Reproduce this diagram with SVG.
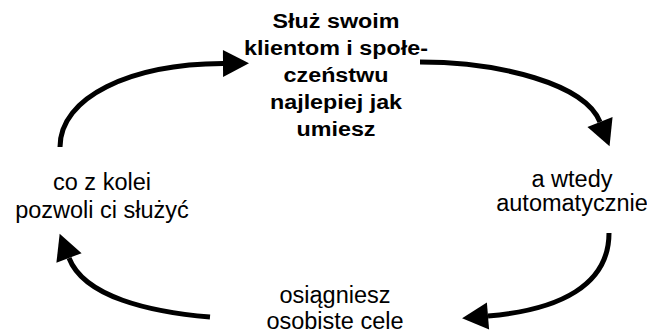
<svg xmlns="http://www.w3.org/2000/svg" width="647" height="334" viewBox="0 0 647 334">
  <style>
    .lbl { font-family: "Liberation Sans", Arial, sans-serif; font-size: 23.5px; fill: #000; text-anchor: middle; }
    .main { font-family: "Liberation Sans", Arial, sans-serif; font-size: 21px; font-weight: bold; fill: #000; text-anchor: middle; }
    .conn { fill: none; stroke: #000; stroke-width: 5; marker-end: url(#head); }
  </style>
  <defs>
    <marker id="head" markerUnits="userSpaceOnUse" markerWidth="27" markerHeight="28" refX="0" refY="13.5" orient="auto" overflow="visible">
      <path d="M0,0 L26,13.5 L0,27 Z" fill="#000"/>
    </marker>
  </defs>
  <rect width="647" height="334" fill="#fff"/>

  <g id="connectors">
    <path class="conn" d="M60,147 C60,97 130,64 223,63.5"/>
    <path class="conn" d="M420,62 C500,62 585,84 600,122"/>
    <path class="conn" d="M609,233 C609,285 560,310 488,316"/>
    <path class="conn" d="M210,317 C150,312 84,297 69,258"/>
  </g>

  <g id="node-main">
    <g transform="translate(336,0) scale(1.11,1)">
      <text class="main" x="0" y="28">Służ swoim</text>
      <text class="main" x="0" y="55">klientom i społe-</text>
      <text class="main" x="0" y="82">czeństwu</text>
      <text class="main" x="0" y="109.5">najlepiej jak</text>
      <text class="main" x="0" y="136.5">umiesz</text>
    </g>
  </g>

  <g id="node-right">
    <text class="lbl" x="572" y="187">a wtedy</text>
    <text class="lbl" x="572" y="210.5">automatycznie</text>
  </g>

  <g id="node-bottom">
    <text class="lbl" x="335" y="303">osiągniesz</text>
    <text class="lbl" x="335" y="328.5">osobiste cele</text>
  </g>

  <g id="node-left">
    <text class="lbl" x="102" y="190">co z kolei</text>
    <text class="lbl" x="102" y="218">pozwoli ci służyć</text>
  </g>
</svg>
